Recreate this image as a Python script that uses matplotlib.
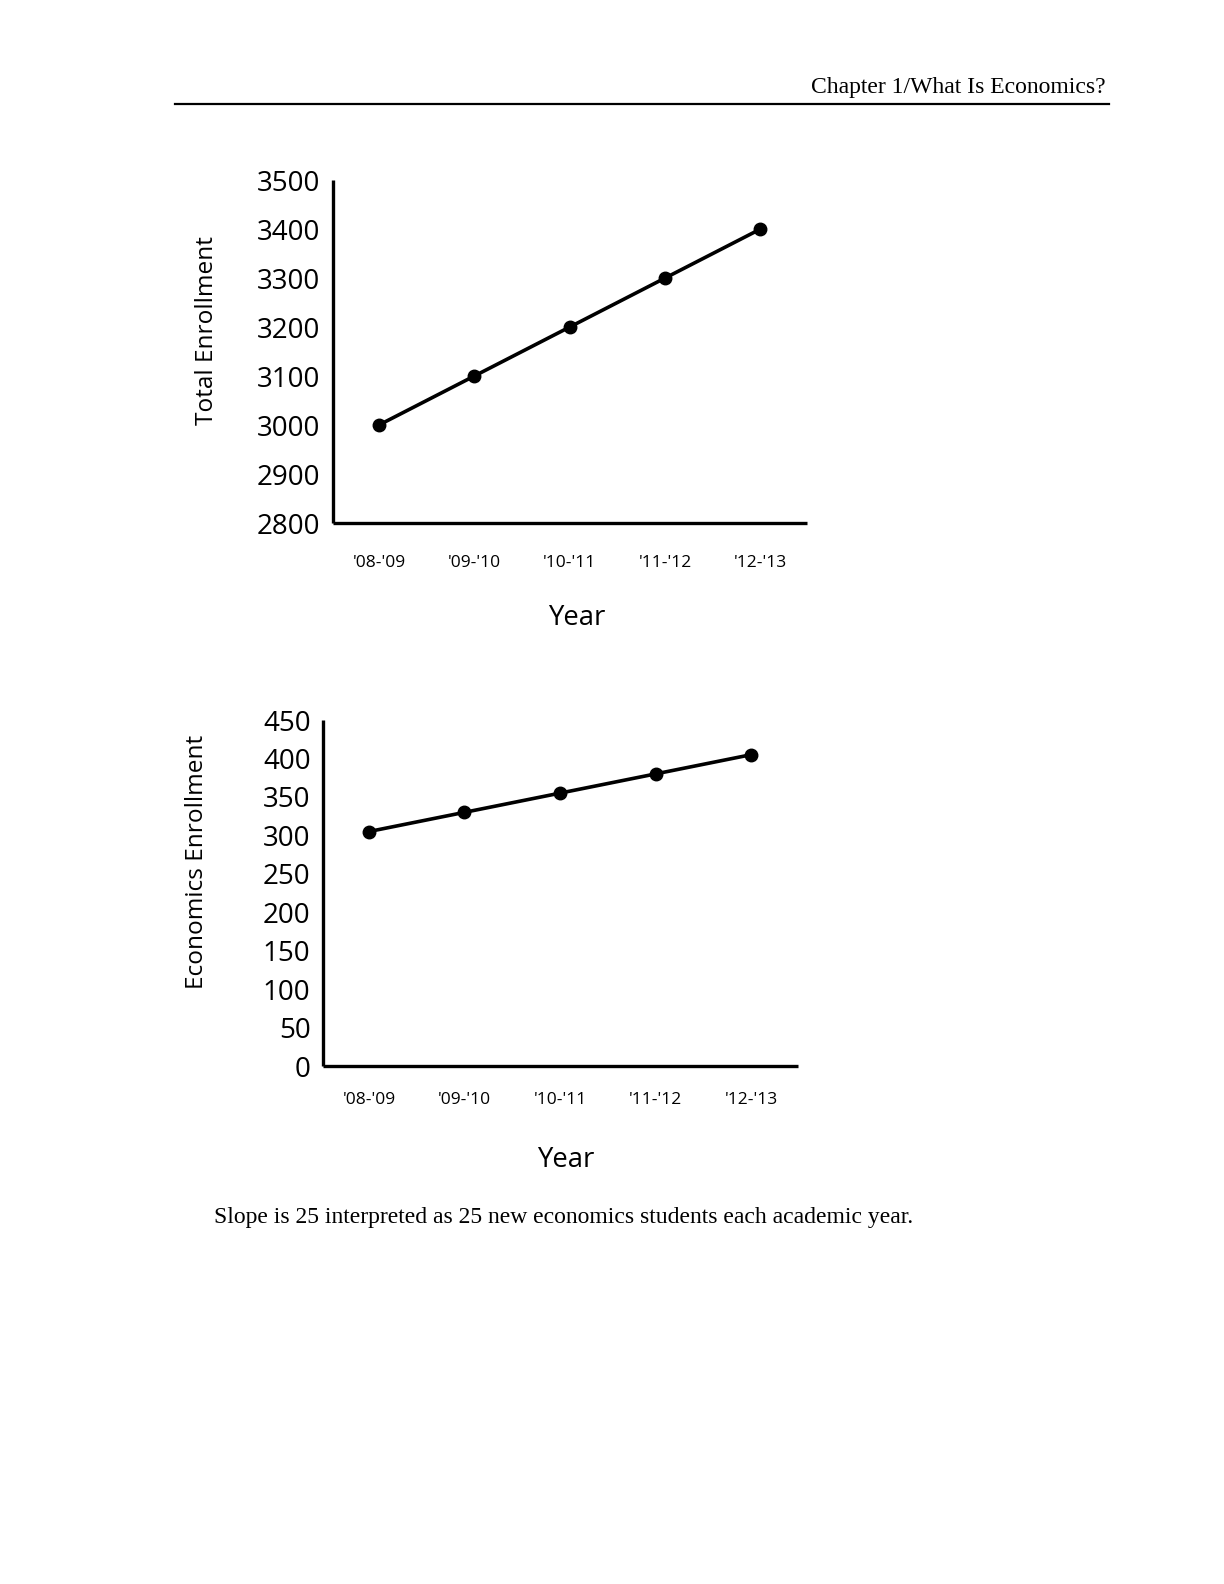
import matplotlib
matplotlib.use('Agg')
import matplotlib.pyplot as plt
from matplotlib.lines import Line2D

plt.rcParams['font.family'] = ['Open Sans', 'DejaVu Sans']

years = ["'08-'09", "'09-'10", "'10-'11", "'11-'12", "'12-'13"]
total_enrollment = [3000, 3100, 3200, 3300, 3400]
econ_enrollment = [305, 330, 355, 380, 405]
total_ticks = [2800, 2900, 3000, 3100, 3200, 3300, 3400, 3500]
econ_ticks = [0, 50, 100, 150, 200, 250, 300, 350, 400, 450]

header = 'Chapter 1/What Is Economics?'
caption = 'Slope is 25 interpreted as 25 new economics students each academic year.'


def draw_panel(ax, values, yticks, ylabel, xlab_xy, ylab_xy, xpad):
    x = list(range(len(years)))
    ax.plot(x, values, color='black', lw=2.6, marker='o', ms=9, solid_capstyle='round')
    ax.set_xlim(-0.48, len(years) - 1 + 0.49)
    ax.set_ylim(yticks[0], yticks[-1])
    ax.set_yticks(yticks)
    ax.set_xticks(x)
    ax.set_xticklabels(years, fontsize=12.5)
    ax.tick_params(axis='y', length=0, pad=9, labelsize=20)
    ax.tick_params(axis='x', length=0, pad=xpad)
    for s in ['top', 'right']:
        ax.spines[s].set_visible(False)
    for s in ['left', 'bottom']:
        ax.spines[s].set_linewidth(2.4)
        ax.spines[s].set_capstyle('butt')
    ax.set_xlabel('Year', fontsize=19.8, va='center')
    ax.xaxis.set_label_coords(*xlab_xy)
    ax.set_ylabel(ylabel, fontsize=17.6, va='center')
    ax.yaxis.set_label_coords(*ylab_xy)
    ax.set_clip_on(False)


fig = plt.figure(figsize=(12.24, 15.84), dpi=100)

# page header
fig.text(1106 / 1224, 1 - 87 / 1584, header, family='Liberation Serif', fontsize=17,
         ha='right', va='center')
fig.add_artist(Line2D([175 / 1224, 1109 / 1224], [1 - 104 / 1584] * 2, color='black', lw=1.6))

ax1 = fig.add_axes([0.2721, 0.6698, 0.3873, 0.2165])
draw_panel(ax1, total_enrollment, total_ticks, 'Total Enrollment',
           (0.515, -0.277), (-0.266, 0.560), 23)

ax2 = fig.add_axes([0.2639, 0.3270, 0.3881, 0.2184])
draw_panel(ax2, econ_enrollment, econ_ticks, 'Economics Enrollment',
           (0.512, -0.272), (-0.265, 0.590), 19)

fig.text(214 / 1224, 1 - 1217 / 1584, caption, family='Liberation Serif', fontsize=17,
         ha='left', va='center')

fig.savefig('out.png', dpi=100)
